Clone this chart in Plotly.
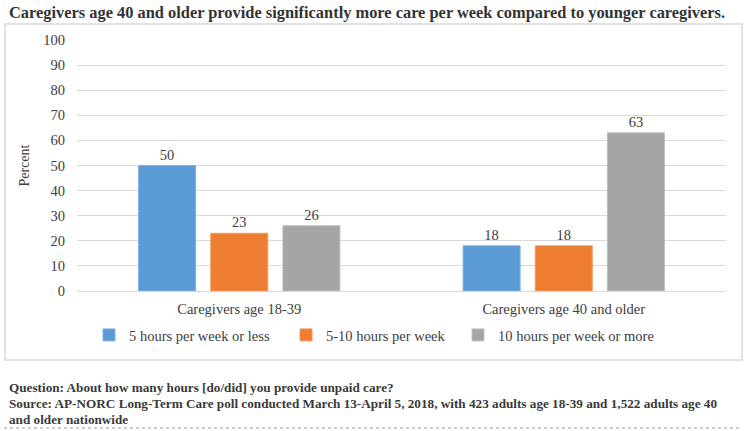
import plotly.graph_objects as go

categories = ["Caregivers age 18-39", "Caregivers age 40 and older"]
series_names = ["5 hours per week or less", "5-10 hours per week", "10 hours per week or more"]
low = [50, 18]
mid = [23, 18]
high = [26, 63]
values = [low, mid, high]
colors = ["#5B9BD5", "#ED7D31", "#A5A5A5"]
line_colors = ["#7FB1DF", "#F29A5E", "#BDBDBD"]

FONT = "Liberation Serif"
TXT = "#404040"

W, H = 749, 431
L, R, T, B = 77, 23, 40, 140
pw = W - L - R
ph = H - T - B

def px(x):
    return (x - L) / pw

def py(y):
    return (H - B - y) / ph

legend_names = ["legend", "legend2", "legend3"]
legend_left = [89, 286, 458]

fig = go.Figure()
for name, vals, c, lc, lg in zip(series_names, values, colors, line_colors, legend_names):
    fig.add_trace(go.Bar(
        x=categories, y=vals, name=name, legend=lg,
        marker=dict(color=c, line=dict(color=lc, width=1)),
        text=[str(v) for v in vals], textposition="outside",
        textfont=dict(family=FONT, size=14.5, color=TXT),
        cliponaxis=False,
    ))

legend_common = dict(orientation="h", yanchor="top", y=py(319), xanchor="left",
                     font=dict(family=FONT, size=14.5, color=TXT), itemwidth=30,
                     bgcolor="rgba(0,0,0,0)")

fig.update_layout(
    width=W, height=H,
    margin=dict(l=L, r=R, t=T, b=B),
    paper_bgcolor="white", plot_bgcolor="white",
    barmode="group", bargap=0.333, bargroupgap=0.21,
    font=dict(family=FONT, size=14, color=TXT),
    showlegend=True,
    legend=dict(x=px(legend_left[0]), **legend_common),
    legend2=dict(x=px(legend_left[1]), **legend_common),
    legend3=dict(x=px(legend_left[2]), **legend_common),
    xaxis=dict(showline=True, linecolor="#D9D9D9", linewidth=1, ticks="",
               ticklabelstandoff=5,
               tickfont=dict(family=FONT, size=14.5, color=TXT)),
    yaxis=dict(range=[0, 100], dtick=10, showgrid=True, gridcolor="#D9D9D9",
               zeroline=False, showline=False, ticks="", ticklabelstandoff=11,
               tickfont=dict(family=FONT, size=14.5, color=TXT),
               title=dict(text="Percent", font=dict(family=FONT, size=14, color=TXT), standoff=10)),
)

# chart border box
fig.add_shape(type="rect", xref="paper", yref="paper",
              x0=px(5), x1=px(742), y0=py(360), y1=py(24),
              line=dict(color="#D9D9D9", width=1.5), fillcolor="rgba(0,0,0,0)", layer="below")
# dotted line at bottom
fig.add_shape(type="line", xref="paper", yref="paper",
              x0=px(4), x1=px(742), y0=py(428), y1=py(428),
              line=dict(color="#9A9A9A", width=1, dash="dot"))

fig.add_annotation(text="<b>Caregivers age 40 and older provide significantly more care per week compared to younger caregivers.</b>",
                   xref="paper", yref="paper", x=px(7), y=py(12), xanchor="left", yanchor="middle",
                   showarrow=False, font=dict(family=FONT, size=16.4, color="#333333"))

footer = ["Question: About how many hours [do/did] you provide unpaid care?",
          "Source: AP-NORC Long-Term Care poll conducted March 13-April 5, 2018, with 423 adults age 18-39 and 1,522 adults age 40",
          "and older nationwide"]
for i, line in enumerate(footer):
    fig.add_annotation(text="<b>" + line + "</b>", xref="paper", yref="paper",
                       x=px(7), y=py(387 + 16 * i), xanchor="left", yanchor="middle",
                       showarrow=False, font=dict(family=FONT, size=13.2, color="#3A3A3A"))

fig.write_html("out.html", config={"displayModeBar": False},
               post_script="document.body.style.margin='0';document.body.style.padding='0';window.dispatchEvent(new Event('resize'));")
